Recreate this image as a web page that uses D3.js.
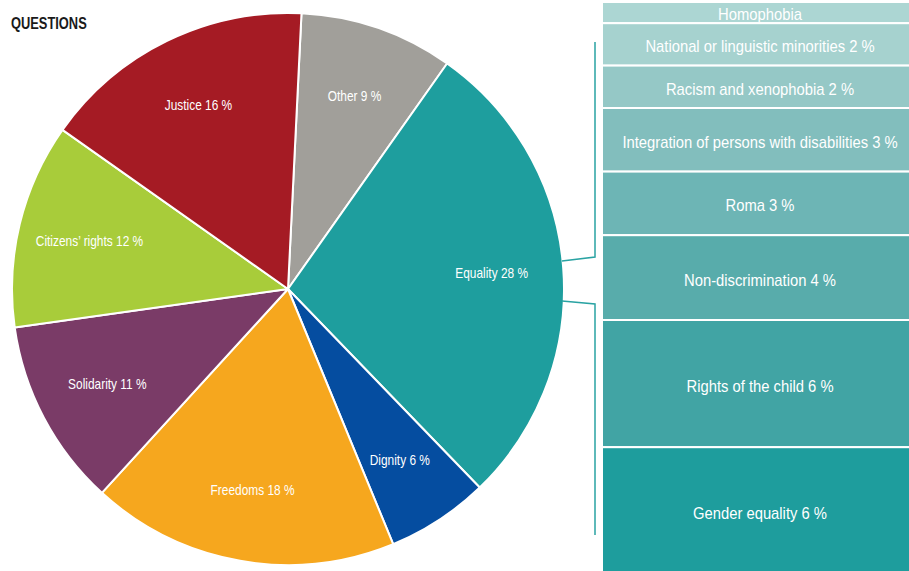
<!DOCTYPE html>
<html>
<head>
<meta charset="utf-8">
<script src="https://cdn.jsdelivr.net/npm/d3@7"></script>
<style>
  html, body { margin: 0; padding: 0; background: #fff; }
  svg { display: block; font-family: "Liberation Sans", Arial, sans-serif; }
</style>
</head>
<body>
<svg id="chart" width="909" height="571"></svg>
<script>
// pie: themes (clockwise from the top)
const themes = ["Other", "Equality", "Dignity", "Freedoms", "Solidarity", "Citizens’ rights", "Justice"];
const themeShares = [9, 28, 6, 18, 11, 12, 16];
const themeColors = ["#a19f9a", "#1e9e9e", "#054da0", "#f6a71e", "#7a3b67", "#a8cc3a", "#a51b24"];

// column: breakdown of Equality (top to bottom)
const topics = ["Homophobia", "National or linguistic minorities", "Racism and xenophobia",
  "Integration of persons with disabilities", "Roma", "Non-discrimination",
  "Rights of the child", "Gender equality"];
const topicShares = [1, 2, 2, 3, 3, 4, 6, 6];
const topicLabels = ["Homophobia", "National or linguistic minorities 2 %", "Racism and xenophobia 2 %",
  "Integration of persons with disabilities 3 %", "Roma 3 %", "Non-discrimination 4 %",
  "Rights of the child 6 %", "Gender equality 6 %"];
const topicColors = ["#acd6d3", "#a6d2cf", "#95c8c6", "#82bebd", "#6db5b5", "#58acab", "#41a4a4", "#1e9d9d"];

// condensed look: the fonts on hand are not narrow, so squeeze them
const pieSqueeze = 0.85;
const colSqueeze = 0.87;

const svg = d3.select("#chart");

svg.append("text")
  .attr("transform", `translate(11,29) scale(0.78,1)`)
  .attr("font-size", 16.5).attr("font-weight", "bold")
  .attr("fill", "#1a1a1a")
  .text("QUESTIONS");

// ---- pie
const cx = 288, cy = 289, r = 276;
const startAngle = 2.8 * Math.PI / 180;

const pie = d3.pie().sort(null).value(d => d.value)
  .startAngle(startAngle).endAngle(startAngle + 2 * Math.PI);
const arcs = pie(themes.map((t, i) => ({ name: t, value: themeShares[i], color: themeColors[i] })));
const arc = d3.arc().innerRadius(0).outerRadius(r);
const labelArc = d3.arc().innerRadius(r * 0.74).outerRadius(r * 0.74);

const pieG = svg.append("g").attr("transform", `translate(${cx},${cy})`);
pieG.selectAll("path")
  .data(arcs)
  .join("path")
  .attr("d", arc)
  .attr("fill", d => d.data.color)
  .attr("stroke", "#fff")
  .attr("stroke-width", 2)
  .attr("stroke-linejoin", "round");

pieG.selectAll("text")
  .data(arcs)
  .join("text")
  .attr("transform", d => `translate(${labelArc.centroid(d)}) scale(${pieSqueeze},1)`)
  .attr("text-anchor", "middle")
  .attr("dy", "0.35em")
  .attr("font-size", 14)
  .attr("fill", "#fff")
  .text(d => `${d.data.name} ${d.data.value} %`);

// ---- column
const colX = 602, colW = 309;
const total = d3.sum(topicShares);
const y = d3.scaleLinear().domain([0, total]).range([2, 2 + total * 21.2]);
const stack = d3.cumsum(topicShares);
const segs = topics.map((t, i) => ({
  name: t, label: topicLabels[i], color: topicColors[i],
  y0: i ? stack[i - 1] : 0, y1: stack[i]
}));

const colG = svg.append("g");
colG.selectAll("rect")
  .data(segs)
  .join("rect")
  .attr("x", colX)
  .attr("y", d => y(d.y0))
  .attr("width", colW)
  .attr("height", d => y(d.y1) - y(d.y0))
  .attr("fill", d => d.color)
  .attr("stroke", "#fff")
  .attr("stroke-width", 2);

colG.selectAll("text")
  .data(segs)
  .join("text")
  .attr("transform", (d, i) =>
    `translate(${colX + 158},${i === 0 ? 14 : (y(d.y0) + y(d.y1)) / 2 + 2}) scale(${colSqueeze},1)`)
  .attr("text-anchor", "middle")
  .attr("dy", "0.35em")
  .attr("font-size", 17)
  .attr("fill", "#fff")
  .text(d => d.label);

// ---- bracket linking Equality to the column
const bx = 595;
const bracket = svg.append("g")
  .attr("fill", "none")
  .attr("stroke", "#2aa3a3")
  .attr("stroke-width", 1.5);
bracket.append("path").attr("d", `M${bx},42 L${bx},257 L${cx + r - 2},261`);
bracket.append("path").attr("d", `M${cx + r - 2},301 L${bx},304 L${bx},535`);
</script>
</body>
</html>
